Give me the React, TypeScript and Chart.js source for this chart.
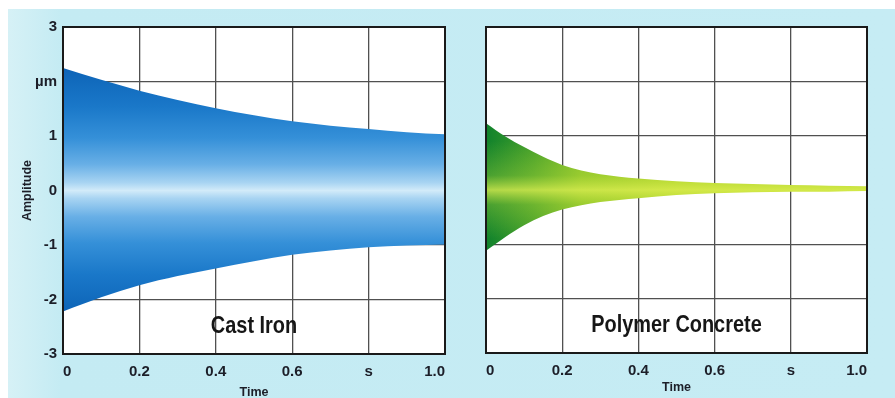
import React, { useEffect, useRef } from "react";
import { Chart, registerables } from "chart.js";
Chart.register(...registerables);

const castIronTimes = [0, 0.1, 0.2, 0.3, 0.4, 0.5, 0.6, 0.7, 0.8, 0.9, 1.0];
const castIronUpper = [2.25, 2.03, 1.83, 1.66, 1.51, 1.38, 1.27, 1.19, 1.13, 1.07, 1.03];
const castIronLower = [-2.22, -1.96, -1.74, -1.57, -1.43, -1.3, -1.18, -1.1, -1.04, -1.01, -0.99];
const polymerTimes = [0, 0.05, 0.1, 0.15, 0.2, 0.25, 0.3, 0.4, 0.5, 0.6, 0.7, 0.8, 0.9, 1.0];
const polymerUpper = [1.23, 0.99, 0.79, 0.61, 0.46, 0.36, 0.29, 0.21, 0.16, 0.13, 0.11, 0.09, 0.08, 0.07];
const polymerLower = [-1.12, -0.87, -0.65, -0.48, -0.36, -0.28, -0.22, -0.15, -0.09, -0.06, -0.04, -0.03, -0.03, -0.02];

const yTickLabels = ["-3", "-2", "-1", "0", "1", "µm", "3"];
const xTickLabels = ["0", "0.2", "0.4", "0.6", "s", "1.0"];
const materialLabels = ["Cast Iron", "Polymer Concrete"];
const yAxisTitle = "Amplitude";
const xAxisTitle = "Time";

const FONT = "'Liberation Sans', Arial, sans-serif";
const TEXT_COLOR = "#1c1e28";

function bluePattern(chart: any) {
  const { ctx, scales } = chart;
  const y = scales.y;
  const top = y.getPixelForValue(2.4);
  const bot = y.getPixelForValue(-2.4);
  const g = ctx.createLinearGradient(0, top, 0, bot);
  g.addColorStop(0, "#0a5fb3");
  g.addColorStop(0.18, "#1a78c9");
  g.addColorStop(0.3, "#3590d8");
  g.addColorStop(0.4, "#68afe6");
  g.addColorStop(0.47, "#a8d4f2");
  g.addColorStop(0.5, "#d2ebf9");
  g.addColorStop(0.53, "#a8d4f2");
  g.addColorStop(0.6, "#68afe6");
  g.addColorStop(0.7, "#3590d8");
  g.addColorStop(0.82, "#1a78c9");
  g.addColorStop(1, "#0a5fb3");
  return g;
}

function greenPattern(chart: any) {
  const { ctx, scales, width, height } = chart;
  const x = scales.x;
  const y = scales.y;
  const off = document.createElement("canvas");
  off.width = width;
  off.height = height;
  const o = off.getContext("2d")!;
  const hx0 = x.getPixelForValue(0);
  const hx1 = x.getPixelForValue(0.5);
  const hg = o.createLinearGradient(hx0, 0, hx1, 0);
  hg.addColorStop(0, "#10822c");
  hg.addColorStop(0.25, "#45a02a");
  hg.addColorStop(0.5, "#86c12a");
  hg.addColorStop(1, "#aed22c");
  o.fillStyle = hg;
  o.fillRect(0, 0, width, height);
  const vt = y.getPixelForValue(0.9);
  const vb = y.getPixelForValue(-0.9);
  const vg = o.createLinearGradient(0, vt, 0, vb);
  vg.addColorStop(0, "rgba(200,228,60,0)");
  vg.addColorStop(0.35, "rgba(200,228,60,0.3)");
  vg.addColorStop(0.5, "rgba(220,238,80,0.8)");
  vg.addColorStop(0.65, "rgba(200,228,60,0.3)");
  vg.addColorStop(1, "rgba(200,228,60,0)");
  o.fillStyle = vg;
  o.fillRect(0, 0, width, height);
  return ctx.createPattern(off, "no-repeat");
}

const framePlugin = {
  id: "frame",
  beforeDraw(chart: any) {
    const { ctx, chartArea: a } = chart;
    ctx.save();
    ctx.fillStyle = "#ffffff";
    ctx.fillRect(a.left, a.top, a.right - a.left, a.bottom - a.top);
    ctx.restore();
  },
  afterDraw(chart: any, _args: any, opts: any) {
    const { ctx, chartArea: a } = chart;
    ctx.save();
    ctx.strokeStyle = "#1a1a1a";
    ctx.lineWidth = 2;
    ctx.strokeRect(a.left, a.top, a.right - a.left, a.bottom - a.top);
    ctx.fillStyle = "#161616";
    ctx.font = `bold 24px ${FONT}`;
    ctx.textAlign = "center";
    ctx.textBaseline = "middle";
    ctx.translate((a.left + a.right) / 2, opts.labelY);
    ctx.scale(0.83, 1);
    ctx.fillText(opts.label, 0, 0);
    ctx.restore();
  },
};

type Cfg = {
  times: number[];
  upper: number[];
  lower: number[];
  green: boolean;
  label: string;
  showY: boolean;
  yWidth: number;
  xHeight: number;
  padRight: number;
  titlePadBottom: number;
  labelY: number;
};

function ChartPanel({ cfg, left, width }: { cfg: Cfg; left: number; width: number }) {
  const ref = useRef<HTMLCanvasElement>(null);
  useEffect(() => {
    const canvas = ref.current!;
    const chart = new Chart(canvas, {
      type: "line",
      data: {
        datasets: [
          {
            data: cfg.times.map((t, i) => ({ x: t, y: cfg.upper[i] })),
            borderWidth: 0,
            pointRadius: 0,
            cubicInterpolationMode: "monotone",
            fill: "+1",
            backgroundColor: (c: any) => {
              const ch = c.chart;
              if (!ch.chartArea) return "transparent";
              return cfg.green ? greenPattern(ch) : bluePattern(ch);
            },
          },
          {
            data: cfg.times.map((t, i) => ({ x: t, y: cfg.lower[i] })),
            borderWidth: 0,
            pointRadius: 0,
            cubicInterpolationMode: "monotone",
            fill: false,
          },
        ],
      },
      options: {
        responsive: false,
        animation: false,
        devicePixelRatio: 1,
        layout: { padding: { top: 27, right: cfg.padRight, left: 0, bottom: 0 } },
        plugins: {
          legend: { display: false },
          tooltip: { enabled: false },
          frame: { label: cfg.label, labelY: cfg.labelY },
        } as any,
        scales: {
          x: {
            type: "linear",
            min: 0,
            max: 1,
            z: 1,
            afterFit: (s: any) => {
              s.height = cfg.xHeight;
            },
            grid: { color: "#505050", lineWidth: 1.3, drawTicks: false },
            border: { display: false },
            ticks: {
              stepSize: 0.2,
              autoSkip: false,
              maxRotation: 0,
              align: "inner",
              padding: 9,
              color: TEXT_COLOR,
              font: { family: FONT, size: 15, weight: "bold" },
              callback: (_v: any, i: number) => xTickLabels[i],
            },
            title: {
              display: true,
              text: xAxisTitle,
              color: TEXT_COLOR,
              font: { family: FONT, size: 12.5, weight: "bold" },
              padding: { top: 0, bottom: cfg.titlePadBottom },
            },
          },
          y: {
            type: "linear",
            min: -3,
            max: 3,
            z: 1,
            afterFit: (s: any) => {
              s.width = cfg.yWidth;
            },
            grid: { color: "#505050", lineWidth: 1.3, drawTicks: false },
            border: { display: false },
            ticks: {
              display: cfg.showY,
              stepSize: 1,
              autoSkip: false,
              padding: 6,
              color: TEXT_COLOR,
              font: { family: FONT, size: 15, weight: "bold" },
              callback: (_v: any, i: number) => yTickLabels[i],
            },
            title: {
              display: cfg.showY,
              text: yAxisTitle,
              color: TEXT_COLOR,
              font: { family: FONT, size: 12.5, weight: "bold" },
              padding: { top: 20, bottom: 0 },
            },
          },
        },
      } as any,
      plugins: [framePlugin],
    });
    return () => chart.destroy();
  }, []);
  return (
    <canvas
      ref={ref}
      width={width}
      height={398}
      style={{ position: "absolute", left, top: 0, width, height: 398 }}
    />
  );
}

const leftCfg: Cfg = {
  times: castIronTimes,
  upper: castIronUpper,
  lower: castIronLower,
  green: false,
  label: materialLabels[0],
  showY: true,
  yWidth: 63,
  xHeight: 44,
  padRight: 10,
  titlePadBottom: -2,
  labelY: 326,
};

const rightCfg: Cfg = {
  times: polymerTimes,
  upper: polymerUpper,
  lower: polymerLower,
  green: true,
  label: materialLabels[1],
  showY: false,
  yWidth: 36,
  xHeight: 45,
  padRight: 28,
  titlePadBottom: 3,
  labelY: 325,
};

export default function App() {
  return (
    <div
      style={{
        position: "fixed",
        left: 0,
        top: 0,
        width: 895,
        height: 398,
        background: "#ffffff",
        overflow: "hidden",
      }}
    >
      <div
        style={{
          position: "absolute",
          left: 8,
          top: 9,
          right: 0,
          bottom: 0,
          background: "linear-gradient(90deg, #d6f1f6 0%, #c4ebf3 6%, #c6ecf4 100%)",
        }}
      />
      <ChartPanel cfg={leftCfg} left={0} width={455} />
      <ChartPanel cfg={rightCfg} left={450} width={445} />
    </div>
  );
}
